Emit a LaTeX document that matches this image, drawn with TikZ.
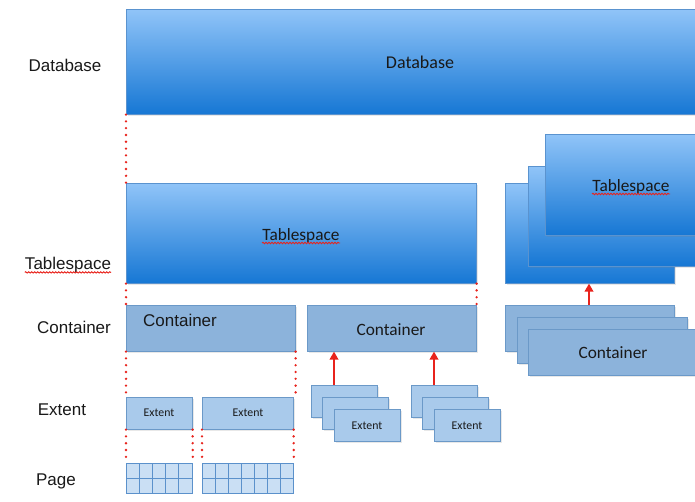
\documentclass[tikz,border=0pt]{standalone}
\usepackage{fontspec}
\setmainfont{Liberation Sans}
\newfontfamily\calfont{Carlito}
\usetikzlibrary{shadows,arrows.meta,decorations.pathmorphing,calc}

\definecolor{dbtop}{HTML}{90C4F8}
\definecolor{dbbot}{HTML}{1677D4}
\definecolor{gradline}{HTML}{5A93CF}
\definecolor{contfill}{HTML}{8CB3DB}
\definecolor{extfill}{HTML}{A9CAEB}
\definecolor{boxline}{HTML}{6B99C8}
\definecolor{pagefill}{HTML}{CADFF4}
\definecolor{pageline}{HTML}{5B91CB}
\definecolor{linkred}{HTML}{E8231C}

\begin{document}
\begin{tikzpicture}[x=1pt,y=-1pt,
  blk/.style={draw=boxline, line width=0.6pt, inner sep=0pt, anchor=north west,
    drop shadow={opacity=0.18, shadow xshift=1.2pt, shadow yshift=-1.4pt}},
  grad/.style={blk, top color=dbtop, bottom color=dbbot, draw=gradline},
  cont/.style={blk, fill=contfill},
  ext/.style={blk, fill=extfill},
  pagebox/.style={draw=pageline, fill=pagefill, line width=0.8pt, inner sep=0pt, anchor=north west},
  gridln/.style={draw=pageline, line width=0.8pt},
  lvl/.style={font=\fontsize{17}{20}\selectfont, text=black!90, inner sep=0pt},
  big/.style={font=\calfont\fontsize{18}{21}\selectfont, text=black!90},
  mid/.style={font=\calfont\fontsize{17.3}{20}\selectfont, text=black!90},
  small/.style={font=\calfont\fontsize{11.8}{14}\selectfont, text=black!90},
  dots/.style={draw=linkred, line width=2.6pt, line cap=round, dash pattern=on 0pt off 6.8pt},
  uparrow/.style={draw=linkred, line width=2pt, -{Triangle[length=8pt,width=8.5pt]}},
  squiggle/.style={draw=linkred, line width=0.9pt, decorate,
    decoration={snake, amplitude=0.7pt, segment length=3pt}},
]
\useasboundingbox (0,0) rectangle (695,502);
\clip (0,0) rectangle (695,502);
\fill[white] (0,0) rectangle (695,502);

% level captions
\node[lvl] (lDb) at (65,65) {Database};
\node[lvl] (lTs) at (68,265) {Tablespace};
\node[lvl] (lCt) at (74,327) {Container};
\node[lvl] (lEx) at (62,410) {Extent};
\node[lvl] (lPg) at (56,481) {Page};
\draw[squiggle] ([yshift=-3pt]lTs.base west) -- ([yshift=-3pt]lTs.base east);

% database
\node[grad, minimum width=590pt, minimum height=105pt] (db) at (126,9) {};
\node[big] at (420,62) {Database};

% tablespace
\node[grad, minimum width=350pt, minimum height=100pt] (ts) at (126,183) {};
\node[mid] (tsT) at (301,236) {Tablespace};
\draw[squiggle] (262,243) -- (340,243);

% containers of the tablespace
\node[cont, minimum width=169pt, minimum height=46pt] (c1) at (126,305) {};
\node[lvl] at (180,320) {Container};
\node[cont, minimum width=169pt, minimum height=46pt] (c2) at (307,305) {};
\node[mid] at (391,330) {Container};

% extents
\node[ext, minimum width=66pt, minimum height=32pt] (e1) at (126,397) {};
\node[small] at (159,413) {Extent};
\node[ext, minimum width=91pt, minimum height=32pt] (e2) at (202,397) {};
\node[small] at (248,413) {Extent};

% stacked extents
\node[ext, minimum width=66pt, minimum height=32pt] (sa3) at (311,385) {};
\node[ext, minimum width=66pt, minimum height=32pt] (sa2) at (322,397) {};
\node[ext, minimum width=66pt, minimum height=32pt] (sa1) at (334,409) {};
\node[small] at (367,426) {Extent};
\node[ext, minimum width=66pt, minimum height=32pt] (sb3) at (411,385) {};
\node[ext, minimum width=66pt, minimum height=32pt] (sb2) at (422,397) {};
\node[ext, minimum width=66pt, minimum height=32pt] (sb1) at (434,409) {};
\node[small] at (467,426) {Extent};

% pages
\node[pagebox, minimum width=66pt, minimum height=30pt] (p1) at (126,463) {};
\foreach \i in {1,...,4}
  \draw[gridln] ($(p1.north west)+(\i*13.2,0)$) -- ($(p1.south west)+(\i*13.2,0)$);
\draw[gridln] (p1.west) -- (p1.east);
\node[pagebox, minimum width=91pt, minimum height=30pt] (p2) at (202,463) {};
\foreach \i in {1,...,6}
  \draw[gridln] ($(p2.north west)+(\i*13,0)$) -- ($(p2.south west)+(\i*13,0)$);
\draw[gridln] (p2.west) -- (p2.east);

% stacked tablespaces
\node[grad, minimum width=169pt, minimum height=100pt] (tc) at (505,183) {};
\node[grad, minimum width=172pt, minimum height=100pt] (tb) at (528,166) {};
\node[grad, minimum width=172pt, minimum height=101pt] (ta) at (545,134) {};
\node[mid] at (631,187) {Tablespace};
\draw[squiggle] (592,194) -- (670,194);

% stacked containers
\node[cont, minimum width=169pt, minimum height=46pt] (kc) at (505,305) {};
\node[cont, minimum width=170pt, minimum height=46pt] (kb) at (517,317) {};
\node[cont, minimum width=172pt, minimum height=46pt] (ka) at (528,329) {};
\node[mid] at (613,353) {Container};

% dotted correspondences
\draw[dots] (db.south west) -- (ts.north west);
\draw[dots] (ts.south west) -- (c1.north west);
\draw[dots] (ts.south east) -- (c2.north east);
\draw[dots] (c1.south west) -- (e1.north west);
\draw[dots] (c1.south east) -- (c1.south east |- e2.north);
\draw[dots] (e1.south west) -- (p1.north west);
\draw[dots] (e1.south east) -- (p1.north east);
\draw[dots] (e2.south west) -- (p2.north west);
\draw[dots] (e2.south east) -- (p2.north east);

% membership arrows
\draw[uparrow] ([xshift=23pt]sa3.north west) -- ([xshift=23pt]sa3.north west |- c2.south);
\draw[uparrow] ([xshift=23pt]sb3.north west) -- ([xshift=23pt]sb3.north west |- c2.south);
\draw[uparrow] ([xshift=84pt]kc.north west) -- ([xshift=84pt]kc.north west |- tc.south);
\end{tikzpicture}
\end{document}
